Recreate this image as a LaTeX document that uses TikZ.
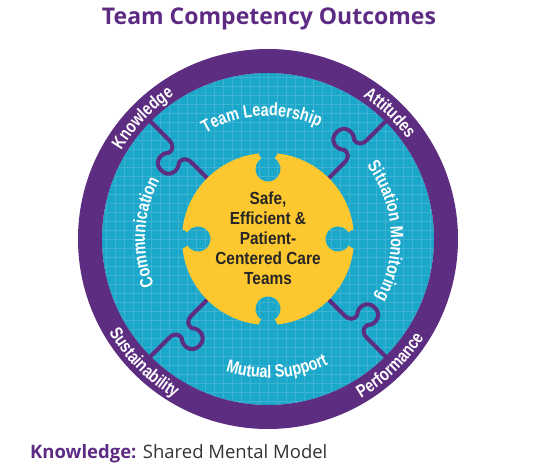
\documentclass[tikz,border=0pt]{standalone}
\usepackage{fontspec}
\usetikzlibrary{decorations.text}
\newfontfamily\headfont{Open Sans}
\newfontfamily\labelfont{Liberation Sans}[FakeStretch=0.8]
\newfontfamily\hubfont{Liberation Sans}[FakeStretch=0.88]
\definecolor{ringpurple}{HTML}{5C2D80}
\definecolor{boardteal}{HTML}{1AA7CA}
\definecolor{gridteal}{HTML}{3DB3D4}
\definecolor{hubyellow}{HTML}{FDC82F}
\definecolor{headpurple}{HTML}{5E2B84}
\definecolor{plaintext}{HTML}{333333}
\newcommand\ringfont{\labelfont\bfseries\fontsize{18}{21}\selectfont}
\tikzset{
  arclabel/.style={decorate,decoration={text along path,text align=center,
      text color=white,text={|\ringfont|#1}}},
  tabline/.style={draw=ringpurple,line width=4pt,line join=round},
  boardgrid/.style={draw=gridteal,line width=0.45pt}
}

\begin{document}
\begin{tikzpicture}[x=1pt,y=1pt]
    \fill[white] (-268,-229) rectangle (276,239);
    \begin{scope}
      \clip (0,0) circle (166);
      \fill[boardteal] (-170,-170) rectangle (170,170);
      \draw[boardgrid,step=9pt] (-171,-171) grid (171,171);
    \end{scope}
    \foreach \a in {45,135,225,315}
      \draw[tabline,rotate=\a] (84,0) -- (108,0)
        .. controls (115,0) and (118,4) .. (117,9)
        .. controls (111,15) and (113,27) .. (124,27)
        .. controls (135,27) and (137,15) .. (131,9)
        .. controls (130,4) and (133,0) .. (140,0) -- (168,0);
    \fill[hubyellow] (0,0) circle (86);
    \foreach \a in {0,90,180,270}{
      \begin{scope}[rotate=\a]
        \clip (97,10) .. controls (87,10) and (82,9) .. (80.8,6.25)
          arc[start angle=30,end angle=330,radius=12.5]
          .. controls (82,-9) and (87,-10) .. (97,-10) -- cycle;
        \fill[boardteal] (40,-20) rectangle (100,20);
        \draw[boardgrid,step=9pt] (-171,-171) grid (171,171);
      \end{scope}
    }
    \draw[ringpurple,line width=24pt] (0,0) circle (178);
    \path[arclabel=Knowledge] (165:171.5) arc[start angle=165,end angle=107,radius=171.5];
    \path[arclabel=Attitudes] (75:171.5) arc[start angle=75,end angle=17,radius=171.5];
    \path[arclabel=Sustainability] (190:184.5) arc[start angle=190,end angle=260,radius=184.5];
    \path[arclabel=Performance] (-81:184.5) arc[start angle=-81,end angle=-11,radius=184.5];
    \path[arclabel=Team Leadership] (130:123) arc[start angle=130,end angle=56,radius=123];
    \path[arclabel=Situation Monitoring] (50:123) arc[start angle=50,end angle=-42,radius=123];
    \path[arclabel=Communication] (222:123) arc[start angle=222,end angle=132,radius=123];
    \path[arclabel=Mutual Support] (234:139) arc[start angle=234,end angle=314,radius=139];
    \node[font=\hubfont\bfseries\fontsize{17.5}{20}\selectfont,text=black!85,align=center]
      (hub) at (0,1) {Safe,\\Efficient \&\\Patient-\\Centered Care\\Teams};
    \node[font=\headfont\bfseries\fontsize{23}{27}\selectfont,text=headpurple,anchor=base]
      (title) at (1,214) {Team Competency Outcomes};
    \node[font=\headfont\fontsize{18.5}{22}\selectfont,text=plaintext,anchor=base west,inner sep=0]
      (legend) at (-238,-220) {\textcolor{headpurple}{\bfseries Knowledge:} Shared Mental Model};
  \end{tikzpicture}
\end{document}
